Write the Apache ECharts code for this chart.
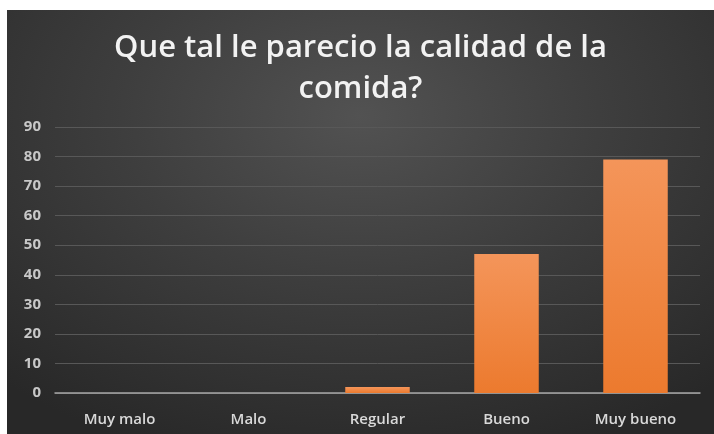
<!DOCTYPE html>
<html><head><meta charset="utf-8">
<script src="https://cdn.jsdelivr.net/npm/echarts@6/dist/echarts.min.js"></script>
<style>
html,body{margin:0;padding:0;background:#fff;width:714px;height:434px;overflow:hidden}
#c{position:absolute;left:7px;top:10px;width:707px;height:424px;
background:radial-gradient(ellipse 75% 85% at 50% 25%, #525252 0%, #3e3e3e 45%, #282828 100%);}
</style></head><body>
<div id="c"></div>
<script>
const titleText = 'Que tal le parecio la calidad de la\ncomida?';
const categories = ['Muy malo', 'Malo', 'Regular', 'Bueno', 'Muy bueno'];
const values = [0, 0, 2, 47, 79];
const yTicks = [0, 10, 20, 30, 40, 50, 60, 70, 80, 90];

const chart = echarts.init(document.getElementById('c'), null, {renderer: 'canvas'});
chart.setOption({
  backgroundColor: 'transparent',
  animation: false,
  title: {
    text: titleText,
    left: 'center',
    top: 13,
    textStyle: {color: '#f2f2f2', fontSize: 31, fontWeight: 600, fontFamily: 'Open Sans', lineHeight: 41}
  },
  grid: {left: 48, right: 14, top: 117, bottom: 41},
  xAxis: {
    type: 'category',
    data: categories,
    axisLine: {lineStyle: {color: '#a6a6a6', width: 1.5}},
    axisTick: {show: false},
    axisLabel: {color: '#d9d9d9', fontSize: 15, fontWeight: 600, fontFamily: 'Open Sans', margin: 19}
  },
  yAxis: {
    type: 'value',
    min: yTicks[0],
    max: yTicks[yTicks.length - 1],
    interval: 10,
    axisLine: {show: false},
    axisTick: {show: false},
    axisLabel: {color: '#c8c8c8', fontSize: 15, fontWeight: 'bold', fontFamily: 'Open Sans', margin: 14},
    splitLine: {lineStyle: {color: '#585858', width: 1}}
  },
  series: [{
    type: 'bar',
    data: values,
    barWidth: '50%',
    itemStyle: {
      color: new echarts.graphic.LinearGradient(0, 0, 0, 1, [
        {offset: 0, color: '#f4955a'},
        {offset: 1, color: '#ec7a2e'}
      ])
    }
  }]
});
</script>
</body></html>
